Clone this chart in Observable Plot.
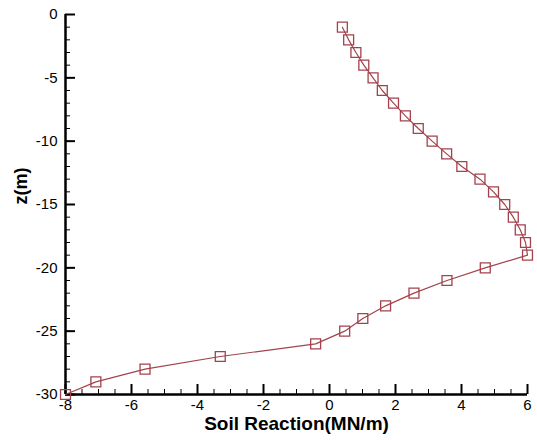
<!DOCTYPE html>
<html>
<head>
<meta charset="utf-8">
<script src="https://cdn.jsdelivr.net/npm/d3@7"></script>
<script src="https://cdn.jsdelivr.net/npm/@observablehq/plot@0.6"></script>
<style>
  html, body { margin: 0; padding: 0; background: #fff; }
</style>
</head>
<body>
<div id="chart"></div>
<script>
// Depth below the pile head (m)
const depth = [-1, -2, -3, -4, -5, -6, -7, -8, -9, -10,
               -11, -12, -13, -14, -15, -16, -17, -18, -19, -20,
               -21, -22, -23, -24, -25, -26, -27, -28, -29, -30];
// Soil reaction at each depth (MN/m)
const reaction = [0.39, 0.58, 0.80, 1.04, 1.32, 1.60, 1.94, 2.30, 2.69, 3.11,
                  3.55, 4.01, 4.56, 4.97, 5.31, 5.57, 5.78, 5.94, 6.00, 4.72,
                  3.56, 2.56, 1.70, 1.01, 0.46, -0.42, -3.31, -5.59, -7.08, -8.00];

// Axis ticks
const xMajorTicks = [-8, -6, -4, -2, 0, 2, 4, 6];
const xMinorTicks = d3.range(-8, 6.01, 0.5);
const yMajorTicks = [-30, -25, -20, -15, -10, -5, 0];
const yMinorTicks = d3.range(-30, 0.01, 1);

const xLabel = "Soil Reaction(MN/m)";
const yLabel = "z(m)";

const profile = depth.map((z, i) => ({z, p: reaction[i]}));
const color = "#a3424c";
const fmt = d => String(d);

const chart = Plot.plot({
  width: 537,
  height: 440,
  marginLeft: 65,
  marginRight: 10,
  marginTop: 14,
  marginBottom: 46,
  style: {fontFamily: "'Liberation Sans', Arial, sans-serif", fontSize: "15px", background: "#fff", color: "#000"},
  x: {domain: [-8, 6]},
  y: {domain: [-30, 0]},
  marks: [
    // minor ticks, pointing into the plot area
    Plot.axisX({ticks: xMinorTicks, tickSize: -5, strokeWidth: 1, text: null, label: null}),
    Plot.axisY({ticks: yMinorTicks, tickSize: -5, strokeWidth: 1, text: null, label: null}),
    // major ticks with labels
    Plot.axisX({ticks: xMajorTicks, tickSize: -10, tickPadding: 15, strokeWidth: 2, tickFormat: fmt, label: null, fontSize: 15}),
    Plot.axisY({ticks: yMajorTicks, tickSize: -10, tickPadding: 18, strokeWidth: 2, tickFormat: fmt, label: null, fontSize: 15}),
    // axis lines
    Plot.ruleX([-8], {stroke: "#000", strokeWidth: 2.5}),
    Plot.ruleY([-30], {stroke: "#000", strokeWidth: 2.5}),
    // reaction profile
    Plot.line(profile, {x: "p", y: "z", stroke: color, strokeWidth: 1.2}),
    Plot.dot(profile, {x: "p", y: "z", symbol: "square", r: 5.6, stroke: color, fill: "none", strokeWidth: 1.3}),
    // axis titles
    Plot.text([xLabel], {text: d => d, frameAnchor: "bottom", dy: 35, fontSize: 19, fontWeight: "bold"}),
    Plot.text([yLabel], {text: d => d, frameAnchor: "left", dx: -44, rotate: -90, fontSize: 18, fontWeight: "bold"})
  ]
});

document.getElementById("chart").appendChild(chart);
</script>
</body>
</html>
